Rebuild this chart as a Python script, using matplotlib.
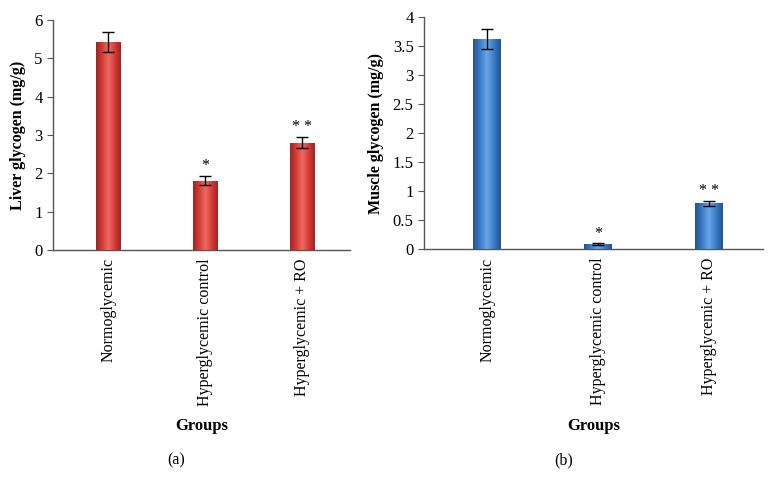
import matplotlib
matplotlib.use("Agg")
import matplotlib.pyplot as plt
import numpy as np
from matplotlib.colors import LinearSegmentedColormap

plt.rcParams['font.family'] = ['Liberation Serif', 'DejaVu Serif']

groups = ["Normoglycemic", "Hyperglycemic control", "Hyperglycemic + RO"]
liver_values = [5.42, 1.81, 2.80]
liver_errors = [0.26, 0.12, 0.14]
liver_marks = ["", "*", "* *"]
muscle_values = [3.61, 0.09, 0.79]
muscle_errors = [0.17, 0.01, 0.045]
muscle_marks = ["", "*", "* *"]

fig = plt.figure(figsize=(7.74, 4.9), dpi=100)

def panel(rect, values, errors, marks, ylabel, ymax, ystep, cols, letter, letter_x):
    ax = fig.add_axes(rect)
    x = np.arange(len(groups))
    bars = ax.bar(x, values, width=0.25, color=cols[1], zorder=2)
    cmap = LinearSegmentedColormap.from_list("g", [cols[0], cols[1], cols[2], cols[1], cols[0]])
    grad = np.linspace(0, 1, 64).reshape(1, -1)
    for b in bars:
        bx, by = b.get_x(), b.get_y()
        bw, bh = b.get_width(), b.get_height()
        im = ax.imshow(grad, cmap=cmap, extent=[bx, bx + bw, by, by + bh],
                       aspect='auto', zorder=3)
        im.set_clip_path(b)
    ax.errorbar(x, values, yerr=errors, fmt='none', ecolor='black',
                elinewidth=1, capsize=4, capthick=1, zorder=4)
    for xi, v, e, m in zip(x, values, errors, marks):
        if m:
            ax.text(xi, v + e + ymax * 0.008, m, ha='center', va='bottom', fontsize=11.5)
    ax.set_xlim(-0.57, len(groups) - 0.51)
    ax.set_ylim(0, ymax)
    ax.set_yticks(np.arange(0, ymax + 1e-9, ystep))
    ax.yaxis.set_major_formatter(plt.FuncFormatter(lambda v, p: f"{v:g}"))
    ax.set_xticks(x)
    ax.set_xticklabels(groups, rotation=90, fontsize=11.5)
    ax.tick_params(axis='x', length=0, pad=6)
    ax.tick_params(axis='y', labelsize=12, length=4, color='#555555', direction='out')
    for s in ['top', 'right']:
        ax.spines[s].set_visible(False)
    for s in ['left', 'bottom']:
        ax.spines[s].set_color('#555555')
        ax.spines[s].set_linewidth(1)
    ax.set_ylabel(ylabel, fontsize=11.5, fontweight='bold', labelpad=6)
    ax.set_xlabel("Groups", fontsize=12, fontweight='bold', labelpad=9)
    fig.text(letter_x, 1 - 460 / 490, letter, ha='center', va='center', fontsize=11.5)
    ax.set_facecolor('none')
    return ax

red = ["#9c2424", "#d63c38", "#ee6a62"]
blue = ["#21548f", "#3a7cc8", "#6aa6e8"]

panel([53 / 774, 1 - 250 / 490, 297 / 774, 230 / 490], liver_values, liver_errors, liver_marks,
      "Liver glycogen (mg/g)", 6, 1, red, "(a)", 176 / 774)
panel([424 / 774, 1 - 249.3 / 490, 339 / 774, 232.6 / 490], muscle_values, muscle_errors, muscle_marks,
      "Muscle glycogen (mg/g)", 4, 0.5, blue, "(b)", 564 / 774)

fig.savefig("out.png", dpi=100)
